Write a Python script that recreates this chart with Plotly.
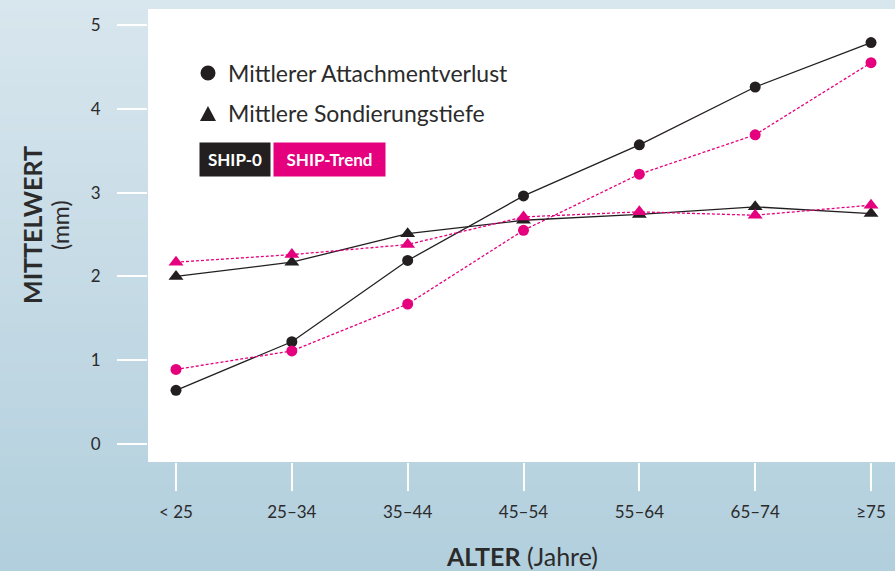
import plotly.graph_objects as go

# Age groups and mean values (mm)
age_groups = ["< 25", "25–34", "35–44", "45–54", "55–64", "65–74", "≥75"]
cal_ship0 = [0.64, 1.22, 2.19, 2.96, 3.57, 4.26, 4.79]
cal_trend = [0.89, 1.11, 1.67, 2.55, 3.22, 3.69, 4.55]
pd_ship0 = [2.00, 2.17, 2.51, 2.67, 2.74, 2.83, 2.75]
pd_trend = [2.17, 2.26, 2.38, 2.71, 2.77, 2.73, 2.85]
y_ticks = [0, 1, 2, 3, 4, 5]

W, H = 895, 571
BLACK = "#231f20"
MAGENTA = "#e5007d"
FONT = "Lato, 'Noto Sans', sans-serif"
TXT = "#2b2b2b"


def px(x):
    return x / W


def py(y):
    return 1 - y / H


x_idx = list(range(len(age_groups)))

fig = go.Figure()

series = [
    (cal_ship0, BLACK, "solid", "circle", 11),
    (cal_trend, MAGENTA, "3px,2px", "circle", 11),
    (pd_ship0, BLACK, "solid", "triangle-up", 13),
    (pd_trend, MAGENTA, "3px,2px", "triangle-up", 13),
]
for vals, col, dash, sym, size in series:
    fig.add_trace(go.Scatter(
        x=x_idx, y=vals, mode="lines+markers",
        line=dict(color=col, width=1.3, dash=dash),
        marker=dict(color=col, symbol=sym, size=size, line=dict(width=0)),
        showlegend=False, hoverinfo="skip",
    ))

# Background gradient bands, then the white plotting panel
shapes = []
n = 60
top_c = (216, 230, 238)
bot_c = (178, 207, 221)
for i in range(n):
    t = i / (n - 1)
    c = tuple(round(top_c[k] + (bot_c[k] - top_c[k]) * t) for k in range(3))
    shapes.append(dict(
        type="rect", xref="paper", yref="paper",
        x0=0, x1=1, y0=1 - (i + 1) / n - 0.002, y1=1 - i / n,
        fillcolor="rgb(%d,%d,%d)" % c, line=dict(width=0), layer="below",
    ))
shapes.append(dict(
    type="rect", xref="paper", yref="paper",
    x0=px(148), x1=1, y0=py(462), y1=py(9),
    fillcolor="white", line=dict(width=0), layer="below",
))

# Legend symbols
shapes.append(dict(
    type="circle", xref="paper", yref="paper",
    x0=px(200.5), x1=px(215.5), y0=py(80.5), y1=py(65.5),
    fillcolor=BLACK, line=dict(width=0),
))
shapes.append(dict(
    type="path", xref="paper", yref="paper",
    path="M %f %f L %f %f L %f %f Z" % (px(200), py(121), px(216), py(121), px(208), py(106)),
    fillcolor=BLACK, line=dict(width=0),
))

annotations = [
    dict(text="Mittlerer Attachmentverlust", x=px(226), y=py(73),
         xanchor="left", yanchor="middle", font=dict(size=23, color=TXT)),
    dict(text="Mittlere Sondierungstiefe", x=px(226), y=py(113),
         xanchor="left", yanchor="middle", font=dict(size=23, color=TXT)),
    dict(text="<b>SHIP-0</b>", x=px(235), y=py(159.5), width=70, height=33,
         bgcolor=BLACK, borderpad=0, xanchor="center", yanchor="middle",
         font=dict(size=17, color="white")),
    dict(text="<b>SHIP-Trend</b>", x=px(329.5), y=py(159.5), width=111, height=33,
         bgcolor=MAGENTA, borderpad=0, xanchor="center", yanchor="middle",
         font=dict(size=17, color="white")),
    dict(text="<b>MITTELWERT</b>", x=px(32), y=py(225), textangle=-90,
         xanchor="center", yanchor="middle", font=dict(size=25, color=TXT)),
    dict(text="(mm)", x=px(60), y=py(225), textangle=-90,
         xanchor="center", yanchor="middle", font=dict(size=23, color=TXT)),
    dict(text="<b>ALTER</b> (Jahre)", x=px(522), y=py(556),
         xanchor="center", yanchor="middle", font=dict(size=25, color=TXT)),
]
for a in annotations:
    a.update(xref="paper", yref="paper", showarrow=False)

fig.update_layout(
    width=W, height=H,
    margin=dict(l=0, r=0, t=0, b=0),
    paper_bgcolor="rgb(196,218,229)",
    plot_bgcolor="rgba(0,0,0,0)",
    font=dict(family=FONT, color=TXT),
    shapes=shapes,
    annotations=annotations,
    xaxis=dict(
        domain=[px(148), 1],
        range=[-0.2417, 6.207],
        tickvals=x_idx, ticktext=age_groups,
        ticks="outside", ticklen=28, tickwidth=2, tickcolor="white",
        ticklabelstandoff=7,
        showgrid=False, zeroline=False, showline=False,
        tickfont=dict(size=17, color=TXT),
        automargin=False, fixedrange=True,
    ),
    yaxis=dict(
        domain=[py(462), py(9)],
        range=[-0.215, 5.191],
        tickvals=y_ticks,
        ticks="outside", ticklen=30, tickwidth=2, tickcolor="white",
        ticklabelstandoff=13,
        showgrid=False, zeroline=False, showline=False,
        tickfont=dict(size=17, color=TXT),
        automargin=False, fixedrange=True,
    ),
)

fig.write_html("out.html", config={"displayModeBar": False})
